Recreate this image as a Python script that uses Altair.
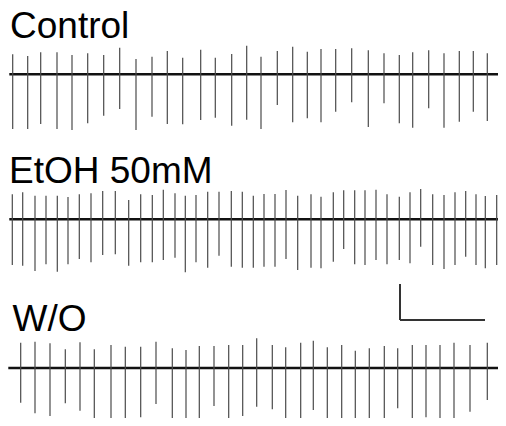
import altair as alt
import pandas as pd

# ---- data (time in a.u., amplitudes in a.u.) ----
labels = ["Control", "EtOH 50mM", "W/O"]

# Control trace
ctrl_t = [12.7, 27.7, 40.7, 57.0, 72.0, 87.7, 103.7, 119.7, 136.0, 152.0, 167.3, 182.7,
          200.7, 215.3, 231.7, 246.7, 261.0, 277.3, 292.7, 307.3, 321.0, 335.7, 351.7,
          368.3, 384.0, 399.3, 412.7, 428.7, 444.0, 459.3, 473.3, 487.3, 501.7]
ctrl_top = [54.3, 56.0, 52.3, 52.3, 55.0, 53.3, 55.0, 47.7, 59.0, 56.7, 51.0, 57.7,
            49.7, 57.7, 54.0, 45.7, 56.7, 51.0, 46.7, 51.7, 49.0, 49.0, 48.3,
            50.3, 53.3, 55.0, 52.3, 50.3, 53.3, 51.0, 51.0, 53.3, 53.3]
ctrl_bot = [129.0, 129.0, 124.0, 129.0, 130.0, 123.3, 115.7, 109.0, 130.0, 116.7, 124.0, 124.3,
            120.0, 117.7, 125.7, 119.7, 129.0, 105.0, 122.3, 118.3, 122.3, 111.7, 102.3,
            127.0, 103.3, 123.3, 127.7, 108.3, 127.7, 121.7, 111.7, 121.0, 133.3]

# EtOH 50mM trace
etoh_t = [12.3, 22.7, 35.0, 46.0, 57.3, 68.0, 79.3, 91.0, 102.7, 115.3, 128.7, 140.7,
          152.3, 163.3, 175.0, 185.3, 196.0, 207.7, 219.0, 231.3, 242.3, 253.3, 264.0,
          275.0, 286.0, 297.7, 311.0, 321.0, 333.3, 343.7, 354.7, 365.0, 376.0, 387.0,
          399.3, 410.0, 420.7, 432.7, 444.0, 455.0, 465.7, 476.0, 485.3, 496.7]
etoh_top = [194.3, 192.3, 195.7, 195.7, 195.7, 197.0, 194.3, 193.3, 191.0, 191.0, 200.0, 194.3,
            195.0, 189.7, 193.3, 195.7, 195.0, 191.7, 191.7, 191.0, 191.7, 195.7, 194.0,
            194.0, 190.0, 195.7, 194.3, 196.7, 192.3, 190.3, 190.3, 190.3, 189.7, 194.3,
            196.7, 192.3, 189.0, 194.3, 195.0, 192.3, 191.0, 194.3, 196.0, 195.0]
etoh_bot = [265.0, 265.7, 271.0, 264.3, 271.7, 264.3, 259.0, 262.3, 255.0, 254.3, 265.7, 262.3,
            262.3, 260.0, 257.7, 272.3, 262.3, 267.7, 255.7, 266.7, 267.7, 267.7, 266.7,
            266.7, 259.0, 270.0, 267.7, 268.3, 261.7, 249.0, 264.3, 265.0, 260.0, 264.3,
            260.0, 263.3, 246.7, 265.0, 269.0, 265.0, 256.7, 265.0, 268.3, 265.0]

# W/O trace
wo_t = [20.7, 35.0, 50.0, 65.3, 80.0, 94.3, 111.0, 125.3, 140.7, 156.0, 172.3, 186.0,
        199.3, 214.0, 228.7, 242.7, 256.7, 272.3, 285.7, 300.7, 313.3, 327.3, 341.7,
        355.3, 369.3, 384.3, 397.7, 412.3, 426.0, 440.0, 454.0, 470.0, 487.3, 501.0]
wo_top = [342.7, 341.7, 343.3, 349.3, 342.3, 349.3, 345.0, 346.7, 346.7, 341.7, 348.3, 350.0,
          346.0, 346.0, 345.0, 345.0, 338.3, 345.0, 347.3, 342.7, 340.7, 347.3, 345.0,
          350.7, 348.3, 346.0, 348.3, 345.0, 345.0, 345.0, 342.7, 345.0, 342.7, 346.7]
wo_bot = [402.7, 413.3, 416.0, 403.3, 410.7, 427.0, 420.7, 425.0, 417.3, 404.0, 427.0, 427.0,
          427.0, 406.0, 425.0, 416.0, 406.7, 409.3, 420.7, 421.7, 410.0, 423.3, 423.3,
          421.7, 424.0, 418.3, 408.3, 418.3, 417.3, 425.0, 420.0, 411.7, 400.0, 427.0]

# trace baselines and extents, scale bar size (a.u.)
baselines = [74.3, 219.3, 368.0]
trace_start = [9.3, 9.3, 8.3]
trace_end = 506.0
scalebar_t = 85.0
scalebar_amp = 36.0

# ---- build tables ----
spike_rows = []
for name, ts, tops, bots in [(labels[0], ctrl_t, ctrl_top, ctrl_bot),
                             (labels[1], etoh_t, etoh_top, etoh_bot),
                             (labels[2], wo_t, wo_top, wo_bot)]:
    for t, a, b in zip(ts, tops, bots):
        spike_rows.append({"trace": name, "t": t, "top": a, "bot": b})
spikes = pd.DataFrame(spike_rows)

base_df = pd.DataFrame({"trace": labels, "t0": trace_start,
                        "t1": [trace_end] * 3, "y": baselines})

label_df = pd.DataFrame({"label": labels, "x": [10.0, 9.0, 12.5],
                         "y": [38.3, 183.3, 331.0]})

sb_x0, sb_y0 = 400.0, 320.0
sb_df = pd.DataFrame({"x": [sb_x0, sb_x0], "x2": [sb_x0, sb_x0 + scalebar_t],
                      "y": [sb_y0 - scalebar_amp, sb_y0], "y2": [sb_y0, sb_y0]})

xs = alt.Scale(domain=[8, 498], nice=False, zero=False)
ys = alt.Scale(domain=[8, 418], nice=False, zero=False, reverse=True)

spike_layer = alt.Chart(spikes).mark_rule(color="#4a4a4a", strokeWidth=1.2, clip=True).encode(
    x=alt.X("t:Q", scale=xs, axis=None),
    y=alt.Y("top:Q", scale=ys, axis=None),
    y2="bot:Q",
)

base_layer = alt.Chart(base_df).mark_rule(color="#111111", strokeWidth=2.6, clip=True).encode(
    x=alt.X("t0:Q", scale=xs, axis=None),
    x2="t1:Q",
    y=alt.Y("y:Q", scale=ys, axis=None),
)

label_layer = alt.Chart(label_df).mark_text(
    align="left", baseline="alphabetic", font="Liberation Sans", fontSize=37, color="#000000"
).encode(
    x=alt.X("x:Q", scale=xs, axis=None),
    y=alt.Y("y:Q", scale=ys, axis=None),
    text="label:N",
)

sb_layer = alt.Chart(sb_df).mark_rule(color="#333333", strokeWidth=2).encode(
    x=alt.X("x:Q", scale=xs, axis=None),
    x2="x2:Q",
    y=alt.Y("y:Q", scale=ys, axis=None),
    y2="y2:Q",
)

chart = alt.layer(base_layer, spike_layer, label_layer, sb_layer).properties(
    width=490, height=410, padding=0, background="white",
    autosize=alt.AutoSizeParams(type="none")
).configure_view(stroke=None)

chart.save("out.html", embed_options={"renderer": "svg", "actions": False})
